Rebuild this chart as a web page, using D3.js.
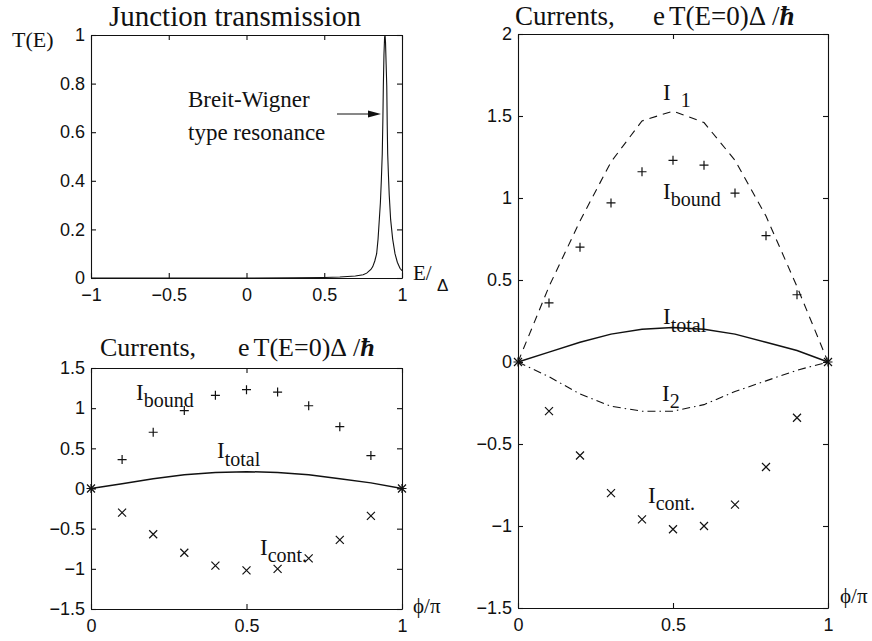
<!DOCTYPE html>
<html><head><meta charset="utf-8">
<script src="https://cdn.jsdelivr.net/npm/d3@7"></script>
<style>body{margin:0;background:#fff}svg{display:block}</style>
</head><body>
<svg id="c" width="872" height="641"></svg>
<script>
// ---- data ----
const energy = [-1, -0.5, 0, 0.3, 0.5, 0.6, 0.7, 0.75, 0.773, 0.8, 0.812, 0.825, 0.837, 0.846, 0.854, 0.861, 0.867, 0.873, 0.877, 0.880, 0.884, 0.888, 0.891, 0.894, 0.898, 0.902, 0.905, 0.908, 0.913, 0.918, 0.927, 0.94, 0.955, 0.97, 0.987, 1.0];
const transmission = [0, 0, 0, 0.0005, 0.002, 0.004, 0.008, 0.013, 0.02, 0.035, 0.047, 0.07, 0.10, 0.16, 0.24, 0.31, 0.40, 0.51, 0.65, 0.79, 0.92, 0.99, 1.0, 0.97, 0.88, 0.79, 0.63, 0.51, 0.42, 0.34, 0.24, 0.16, 0.10, 0.065, 0.04, 0.03];
const phi = [0, 0.1, 0.2, 0.3, 0.4, 0.5, 0.6, 0.7, 0.8, 0.9, 1.0];
const iBound = [0, 0.36, 0.70, 0.97, 1.16, 1.23, 1.20, 1.03, 0.77, 0.41, 0];
const iCont = [0, -0.30, -0.57, -0.80, -0.96, -1.02, -1.00, -0.87, -0.64, -0.34, 0];
const iTotal = [0, 0.06, 0.12, 0.17, 0.20, 0.21, 0.20, 0.17, 0.12, 0.07, 0];
const iOne = [0, 0.46, 0.86, 1.22, 1.47, 1.53, 1.46, 1.23, 0.89, 0.46, 0];
const iTwo = [0, -0.09, -0.195, -0.27, -0.30, -0.30, -0.26, -0.18, -0.115, -0.05, 0];
const energyTicks = [-1, -0.5, 0, 0.5, 1];
const transTicks = [0, 0.2, 0.4, 0.6, 0.8, 1];
const phiTicks = [0, 0.5, 1];
const currentTicksSmall = [-1.5, -1, -0.5, 0, 0.5, 1, 1.5];
const currentTicksBig = [-1.5, -1, -0.5, 0, 0.5, 1, 1.5, 2];

// ---- drawing ----
const svg = d3.select('#c');
const SANS = "'Liberation Sans', Arial, sans-serif";
const SERIF = "'Liberation Serif', 'Times New Roman', serif";
const INK = '#111';
const fmt = d3.format('~g');

function panel(xr, yr, xd, yd, xt, yt) {
  const x = d3.scaleLinear().domain(xd).range(xr);
  const y = d3.scaleLinear().domain(yd).range(yr);
  const g = svg.append('g');
  const style = a => a.attr('font-family', SANS).attr('font-size', 18)
    .call(s => s.selectAll('path,line').attr('stroke', INK).attr('stroke-width', 1.1));
  g.append('g').attr('transform', `translate(0,${yr[0]})`)
    .call(d3.axisBottom(x).tickValues(xt).tickFormat(fmt).tickSizeInner(-5).tickSizeOuter(0).tickPadding(10)).call(style);
  g.append('g').attr('transform', `translate(0,${yr[1]})`)
    .call(d3.axisTop(x).tickValues(xt).tickFormat('').tickSizeInner(-5).tickSizeOuter(0)).call(style);
  g.append('g').attr('transform', `translate(${xr[0]},0)`)
    .call(d3.axisLeft(y).tickValues(yt).tickFormat(fmt).tickSizeInner(-5).tickSizeOuter(0).tickPadding(6)).call(style);
  g.append('g').attr('transform', `translate(${xr[1]},0)`)
    .call(d3.axisRight(y).tickValues(yt).tickFormat('').tickSizeInner(-5).tickSizeOuter(0)).call(style);
  g.selectAll('.tick text').attr('fill', INK);
  return {g, x, y};
}

function txt(x, y, s, size, fam) {
  return svg.append('text').attr('x', x).attr('y', y).attr('font-family', fam || SERIF)
    .attr('font-size', size).attr('fill', INK).text(s);
}

function label(x, y, main, sub, subDy, subDx) {
  const t = svg.append('text').attr('x', x).attr('y', y)
    .attr('font-family', SERIF).attr('font-size', 23).attr('fill', INK);
  t.append('tspan').text(main);
  t.append('tspan').attr('dx', subDx || 0).attr('dy', subDy).attr('font-size', 20).text(sub);
}

function markers(g, x, y, xs, ys, type) {
  const p = type === 'plus' ? 'M-4.5,0H4.5M0,-4.5V4.5' : 'M-4,-4L4,4M-4,4L4,-4';
  g.selectAll(null).data(xs).enter().append('path')
    .attr('d', p).attr('transform', (d, i) => `translate(${x(d)},${y(ys[i])})`)
    .attr('stroke', INK).attr('stroke-width', 1.2).attr('fill', 'none');
}

function curve(g, x, y, xs, ys, w, dash) {
  const line = d3.line().x(d => x(d[0])).y(d => y(d[1]));
  g.append('path').datum(xs.map((d, i) => [d, ys[i]])).attr('d', line)
    .attr('fill', 'none').attr('stroke', INK).attr('stroke-width', w)
    .attr('stroke-dasharray', dash || null);
}

function title(x1, x2, y, size) {
  txt(x1, y, 'Currents,', size);
  const t2 = svg.append('text').attr('x', x2).attr('y', y).attr('font-family', SERIF).attr('font-size', size).attr('fill', INK);
  t2.append('tspan').text('e');
  t2.append('tspan').attr('dx', 4).text('T(E=0)Δ');
  t2.append('tspan').attr('dx', 6).text('/');
  t2.append('tspan').attr('font-weight', 'bold').attr('font-style', 'italic').text('ħ');
}

// Panel 1: transmission
{
  const {g, x, y} = panel([91, 402], [278, 35], [-1, 1], [0, 1], energyTicks, transTicks);
  curve(g, x, y, energy, transmission, 1.1);
  txt(235, 26, 'Junction transmission', 29).attr('text-anchor', 'middle');
  txt(12, 47, 'T(E)', 22);
  txt(413, 280, 'E/', 21);
  txt(437, 291, 'Δ', 17, SANS);
  txt(188, 107, 'Breit-Wigner', 23);
  txt(188, 140, 'type resonance', 23);
  svg.append('line').attr('x1', 337).attr('x2', 370).attr('y1', 114).attr('y2', 114).attr('stroke', INK).attr('stroke-width', 1);
  svg.append('path').attr('d', 'M381,114L368,110.5L368,117.5Z').attr('fill', INK);
}

// Panel 2: currents (bottom-left)
{
  const {g, x, y} = panel([91, 402], [609, 368], [0, 1], [-1.5, 1.5], phiTicks, currentTicksSmall);
  curve(g, x, y, phi, iTotal, 1.5);
  markers(g, x, y, phi, iBound, 'plus');
  markers(g, x, y, phi, iCont, 'cross');
  title(100, 238, 356, 26);
  label(136, 400, 'I', 'bound', 7);
  label(217, 458, 'I', 'total', 8);
  label(260, 555, 'I', 'cont.', 7);
  txt(413, 613, 'ϕ/π', 21);
}

// Panel 3: currents (right)
{
  const {g, x, y} = panel([518, 828], [608, 34], [0, 1], [-1.5, 2], phiTicks, currentTicksBig);
  curve(g, x, y, phi, iOne, 1.1, '8,6');
  curve(g, x, y, phi, iTwo, 1.1, '8,4,1.5,4');
  curve(g, x, y, phi, iTotal, 1.5);
  markers(g, x, y, phi, iBound, 'plus');
  markers(g, x, y, phi, iCont, 'cross');
  title(515, 653, 25, 27);
  label(663, 100, 'I', '1', 7, 10);
  label(663, 199, 'I', 'bound', 7);
  label(663, 324, 'I', 'total', 8);
  label(662, 401, 'I', '2', 7);
  label(648, 503, 'I', 'cont.', 7);
  txt(840, 603, 'ϕ/π', 21);
}
</script>
</body></html>
